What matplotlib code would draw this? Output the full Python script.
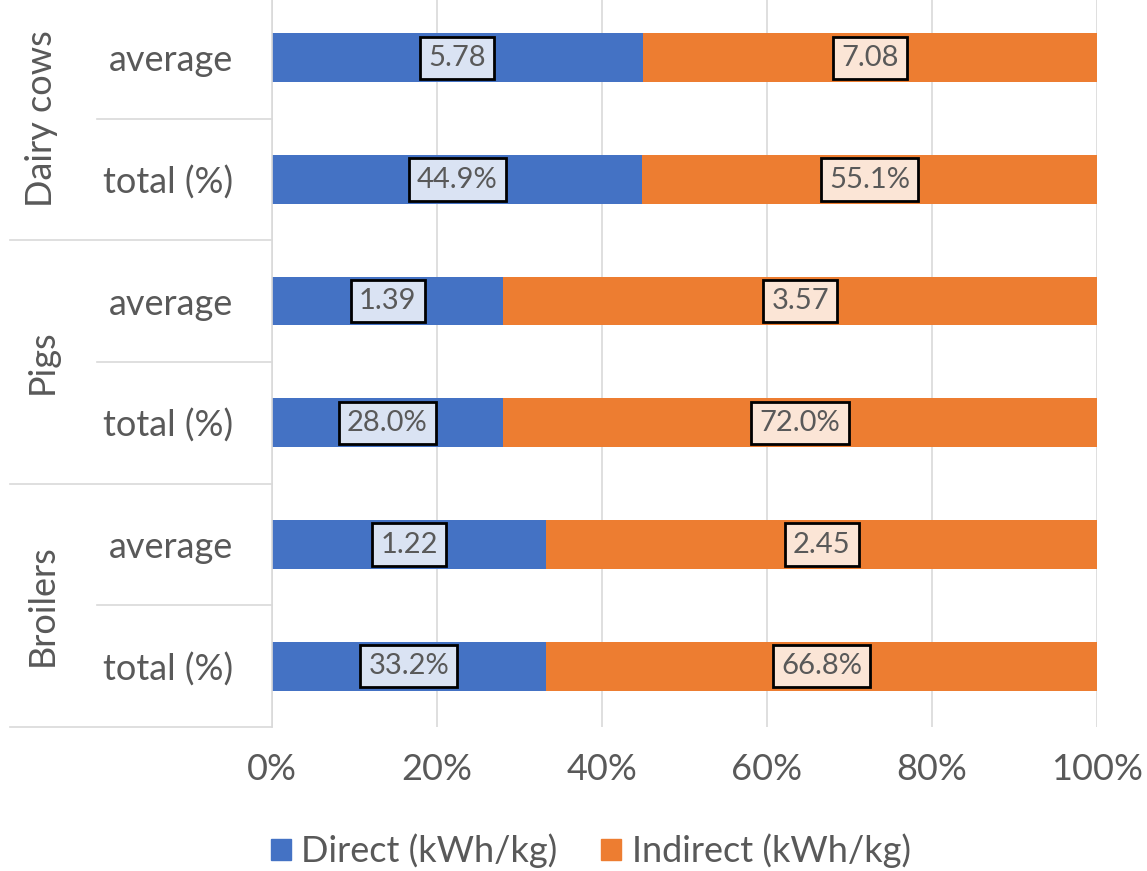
import matplotlib.pyplot as plt
from matplotlib.patches import Patch
from matplotlib.transforms import blended_transform_factory
from matplotlib.ticker import PercentFormatter
import numpy as np

groups = ['Dairy cows', 'Pigs', 'Broilers']
rows = ['average', 'total (%)', 'average', 'total (%)', 'average', 'total (%)']
direct = [5.78, 44.9, 1.39, 28.0, 1.22, 33.2]
indirect = [7.08, 55.1, 3.57, 72.0, 2.45, 66.8]
series_names = ['Direct (kWh/kg)', 'Indirect (kWh/kg)']

BLUE = '#4472C4'
ORANGE = '#ED7D31'
BLUE_LIGHT = '#DAE3F3'
ORANGE_LIGHT = '#FBE5D6'
TEXT = '#595959'
GRID = '#D9D9D9'


def fmt(val, row):
    return f'{val:.1f}%' if row.startswith('total') else f'{val:.2f}'


def main():
    plt.rcParams['font.family'] = ['Lato', 'DejaVu Sans']
    fig = plt.figure(figsize=(11.47, 8.71), dpi=100)
    ax = fig.add_axes([272 / 1147, 144 / 871, 825 / 1147, 730 / 871])

    d = np.array(direct)
    i = np.array(indirect)
    share_d = d / (d + i) * 100
    share_i = i / (d + i) * 100
    y = np.arange(len(rows))

    ax.barh(y, share_d, height=0.4, color=BLUE, zorder=2)
    ax.barh(y, share_i, left=share_d, height=0.4, color=ORANGE, zorder=2)

    # boxed value labels centred in each segment
    for k, row in enumerate(rows):
        ax.text(share_d[k] / 2, k, fmt(direct[k], row), ha='center', va='center',
                fontsize=21, color=TEXT, zorder=3,
                bbox=dict(boxstyle='square,pad=0.28', fc=BLUE_LIGHT, ec='black', lw=2))
        ax.text(share_d[k] + share_i[k] / 2, k, fmt(indirect[k], row), ha='center',
                va='center', fontsize=21, color=TEXT, zorder=3,
                bbox=dict(boxstyle='square,pad=0.28', fc=ORANGE_LIGHT, ec='black', lw=2))

    ax.set_ylim(len(rows) - 0.5, -0.5)
    ax.set_xlim(0, 100)
    ax.set_xticks([0, 20, 40, 60, 80, 100])
    ax.xaxis.set_major_formatter(PercentFormatter(decimals=0))
    ax.set_yticks(y)
    ax.set_yticklabels(rows)
    ax.tick_params(axis='y', length=0, pad=28, labelsize=26, labelcolor=TEXT)
    ax.tick_params(axis='x', length=0, pad=19, labelsize=26, labelcolor=TEXT)
    ax.grid(axis='x', color=GRID, lw=1.2, zorder=0)
    for s in ['top', 'right', 'bottom']:
        ax.spines[s].set_visible(False)
    ax.spines['left'].set_color(GRID)
    ax.spines['left'].set_linewidth(1.2)

    # category separators and group labels to the left of the axis
    tr = blended_transform_factory(ax.transAxes, ax.transData)
    x_outer = (10 - 272) / 825
    x_inner = (97 - 272) / 825
    for g, name in enumerate(groups):
        top = 2 * g - 0.5
        ax.plot([x_inner, 0], [top + 1, top + 1], transform=tr, color=GRID,
                lw=1.2, clip_on=False)
        ax.plot([x_outer, 0], [top + 2, top + 2], transform=tr, color=GRID,
                lw=1.2, clip_on=False)
        ax.text((42 - 272) / 825, top + 1, name, transform=tr, rotation=90,
                ha='center', va='center', fontsize=26, color=TEXT)

    handles = [Patch(color=BLUE), Patch(color=ORANGE)]
    fig.legend(handles, series_names, loc='center', bbox_to_anchor=(0.515, 20 / 871),
               ncol=2, frameon=False, fontsize=26, labelcolor=TEXT,
               handlelength=0.55, handleheight=0.55, handletextpad=0.3,
               columnspacing=1.2)

    fig.savefig('out.png', dpi=100)


if __name__ == '__main__':
    main()
